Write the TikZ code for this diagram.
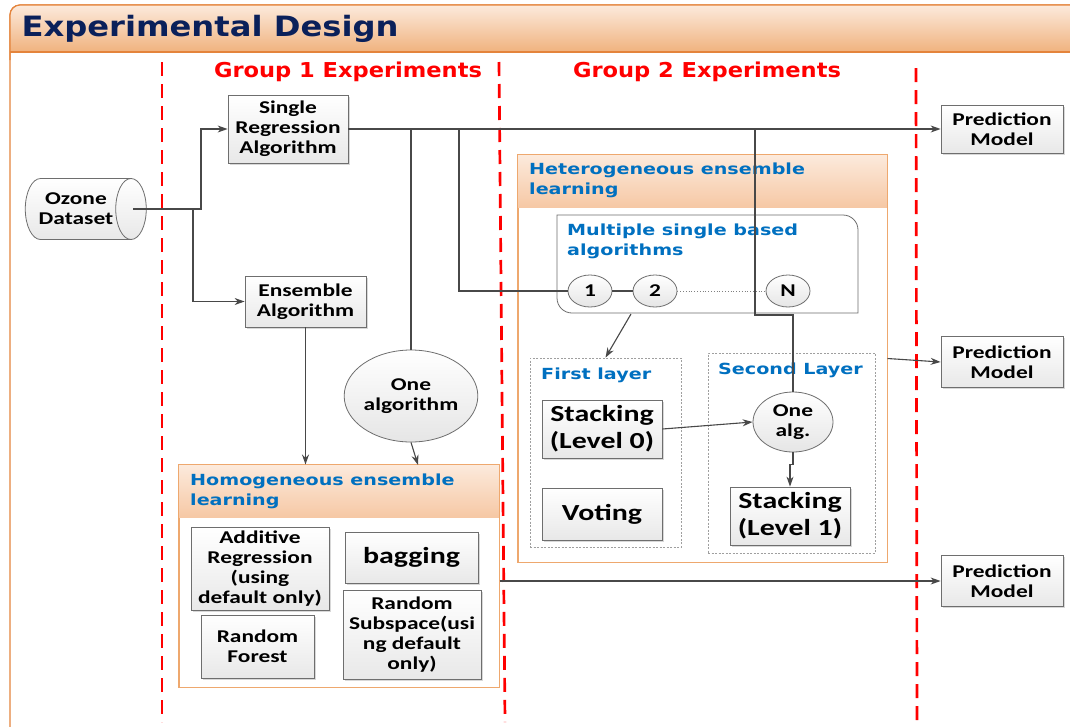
\documentclass[tikz,border=0pt]{standalone}
\usepackage{fontspec}
\usetikzlibrary{shapes.geometric,shadows,arrows.meta}
\newfontfamily\fcal[FakeStretch=1.3]{Carlito}
\newfontfamily\fdv[FakeStretch=1.25]{DejaVu Sans}
\newfontfamily\fttl[FakeStretch=1.15]{DejaVu Sans}
\newfontfamily\fgrp[FakeStretch=1.1]{DejaVu Sans}
\definecolor{navy}{RGB}{10,32,90}
\definecolor{hblue}{RGB}{0,112,192}
\definecolor{conncol}{RGB}{72,72,72}
\definecolor{bordOr}{RGB}{228,132,60}
\definecolor{frOr}{RGB}{238,168,110}
\definecolor{hdTop}{RGB}{252,234,220}
\definecolor{hdBot}{RGB}{246,200,165}
\definecolor{tbBot}{RGB}{240,178,126}
\definecolor{bxline}{RGB}{110,110,110}
\newcommand\boxfont{\fcal\bfseries\fontsize{18}{20}\selectfont}
\newcommand\bigboxfont{\fcal\bfseries\fontsize{23}{27}\selectfont}
\newcommand\hdfont{\fdv\bfseries\fontsize{15.3}{20}\selectfont}
\tikzset{
  box/.style={draw=bxline, line width=0.8pt, top color=white, bottom color=gray!18,
    drop shadow={opacity=0.3,shadow xshift=1.5pt,shadow yshift=-1.5pt},
    align=center, font=\boxfont, inner sep=1pt, text=black},
  ell/.style={ellipse, draw=bxline, line width=0.8pt, top color=white, bottom color=gray!20,
    align=center, font=\boxfont, inner sep=0pt},
  cn/.style={draw=conncol, line width=1.1pt},
  arr/.style={cn, -{Stealth[length=10pt,width=7pt]}},
  frame/.style={draw=frOr, line width=1pt},
  hdr/.style={top color=hdTop, bottom color=hdBot},
  layer/.style={draw=gray!75, dash pattern=on 2pt off 1.5pt, line width=0.8pt},
  redline/.style={draw=red, line width=2.7pt, dash pattern=on 14pt off 8pt},
  hdtext/.style={anchor=west, align=left, font=\hdfont, text=hblue, inner sep=0pt}
}
\begin{document}
\begin{tikzpicture}[x=1pt,y=-1pt]
\useasboundingbox (0,0) rectangle (1070,726);
\clip (0,0) rectangle (1070,726);
% outer frame and title bar
\draw[draw=bordOr, line width=1.2pt, fill=white, rounded corners=10pt] (10,5) rectangle (1090,760);
\shade[top color=hdTop, bottom color=tbBot] (10,52) [rounded corners=10pt] -- (10,5) -- (1090,5) [sharp corners] -- (1090,52) -- cycle;
\draw[draw=bordOr, line width=1.2pt, rounded corners=10pt] (10,60) -- (10,5) -- (1090,5);
\draw[draw=bordOr, line width=1.2pt] (10,52) -- (1090,52);
\node[anchor=west, font=\fttl\bfseries\fontsize{28}{32}\selectfont, text=navy] (title) at (18,29) {Experimental Design};

% red dashed separators
\draw[redline] (162,62) -- (162,722);
\draw[redline] (499,62) -- (505,722);
\draw[redline] (916,68) -- (917,722);
\node[font=\fgrp\bfseries\fontsize{20.5}{24}\selectfont, text=red] (g1) at (348,72) {Group 1 Experiments};
\node[font=\fgrp\bfseries\fontsize{20.5}{24}\selectfont, text=red] (g2) at (707,72) {Group 2 Experiments};

% heterogeneous frame
\node[frame, fill=white, minimum width=369pt, minimum height=407pt, inner sep=0pt] (het) at (702.5,358.5) {};
\shade[hdr] (518,155) rectangle (887,207);
\draw[frame] (het.north west) rectangle (het.south east);
\node[hdtext] (hettxt) at (529,180) {Heterogeneous ensemble\\learning};

% multiple single based algorithms box
\draw[draw=bxline, line width=0.8pt, fill=white] (557,215) -- (843,215) .. controls (851.3,215) and (858,221.7) .. (858,230) -- (858,313) -- (572,313) .. controls (563.7,313) and (557,306.3) .. (557,298) -- cycle;
\node[hdtext] (multtxt) at (567,241) {Multiple single based\\algorithms};
\node[ell, minimum width=44pt, minimum height=32pt] (c1) at (590,291) {1};
\node[ell, minimum width=44pt, minimum height=32pt] (c2) at (655,291) {2};
\node[ell, minimum width=44pt, minimum height=32pt] (cN) at (788,291) {N};
\coordinate (mo) at (631,314);

% first layer
\node[layer, minimum width=151pt, minimum height=189pt, inner sep=0pt] (first) at (605.5,452.5) {};
\node[hdtext] (firsttxt) at (541,375) {First layer};
\node[box, font=\bigboxfont, minimum width=120pt, minimum height=58pt] (st0) at (602,429) {Stacking\\(Level 0)};
\node[box, font=\bigboxfont, minimum width=120pt, minimum height=52pt] (vot) at (602,514) {Voting};

% second layer
\node[layer, minimum width=167pt, minimum height=200pt, inner sep=0pt] (second) at (791.5,453) {};
\node[hdtext] (secondtxt) at (718,370) {Second Layer};
\node[ell, minimum width=80pt, minimum height=60pt] (onealg) at (793,422) {One\\alg.};
\node[box, font=\bigboxfont, minimum width=120pt, minimum height=58pt] (st1) at (790,516) {Stacking\\(Level 1)};

% homogeneous frame
\node[frame, fill=white, minimum width=320pt, minimum height=222pt, inner sep=0pt] (homog) at (339,576) {};
\shade[hdr] (179,465) rectangle (499,517);
\draw[frame] (homog.north west) rectangle (homog.south east);
\node[hdtext] (homtxt) at (190,491) {Homogeneous ensemble\\learning};
\node[box, minimum width=138pt, minimum height=83pt] (addreg) at (260,568.5) {Additive\\Regression\\(using\\default only)};
\node[box, minimum width=113pt, minimum height=63pt] (rforest) at (257.5,646.5) {Random\\Forest};
\node[box, font=\bigboxfont, minimum width=133pt, minimum height=51pt] (bagging) at (411.5,557.5) {bagging};
\node[box, minimum width=138pt, minimum height=89pt] (rsub) at (412,634.5) {Random\\Subspace(usi\\ng default\\only)};

% left nodes
\node[cylinder, draw=bxline, line width=0.8pt, top color=white, bottom color=gray!18, minimum height=121pt, minimum width=61pt, aspect=0.9, font=\boxfont, align=center, inner sep=1pt] (oz) at (76,209) {Ozone\\Dataset};
\coordinate (ozs) at (133,209);
\coordinate (b1) at (193,209);
\node[box, minimum width=120pt, minimum height=68pt] (single) at (288,129) {Single\\Regression\\Algorithm};
\node[box, minimum width=121pt, minimum height=51pt] (ens) at (305.5,301.5) {Ensemble\\Algorithm};
\node[ell, minimum width=128pt, minimum height=92pt] (onealgo) at (411,396) {One\\algorithm};
\coordinate (hin) at (418,465);

% prediction models
\node[box, minimum width=122pt, minimum height=48pt] (pm1) at (1002,129) {Prediction\\Model};
\node[box, minimum width=122pt, minimum height=51pt] (pm2) at (1002,362) {Prediction\\Model};
\node[box, minimum width=122pt, minimum height=51pt] (pm3) at (1002,581) {Prediction\\Model};

% junctions on main line
\coordinate (j1) at (411,129);
\coordinate (j2) at (459,129);
\coordinate (j3) at (755,129);
\coordinate (j4) at (755,315);

% connectors
\draw[arr] (ozs) -- (201,209) |- (single.west);
\draw[arr] (b1) |- (ens.west);
\draw[arr] (single.east) -- (pm1.west);
\draw[cn] (j1) -- (onealgo.north);
\draw[arr] (onealgo.south) -- (hin);
\draw[arr] (ens.south) -- (ens.south |- homog.north);
\draw[cn] (j2) |- (c1.west);
\draw[cn] (c1) -- (c2);
\draw[draw=gray, line width=0.8pt, dotted] (c2) -- (cN);
\draw[cn] (j3) -- (j4) -| (onealg.north);
\draw[arr] (mo) -- (first.north);
\draw[arr] (st0.east) -- (onealg.west);
\draw[arr] (onealg.south) -- ++(0,12) -| (st1.north);
\draw[arr] (het.east) -- (pm2.west);
\draw[arr] (homog.east |- pm3.west) -- (pm3.west);
\end{tikzpicture}
\end{document}
